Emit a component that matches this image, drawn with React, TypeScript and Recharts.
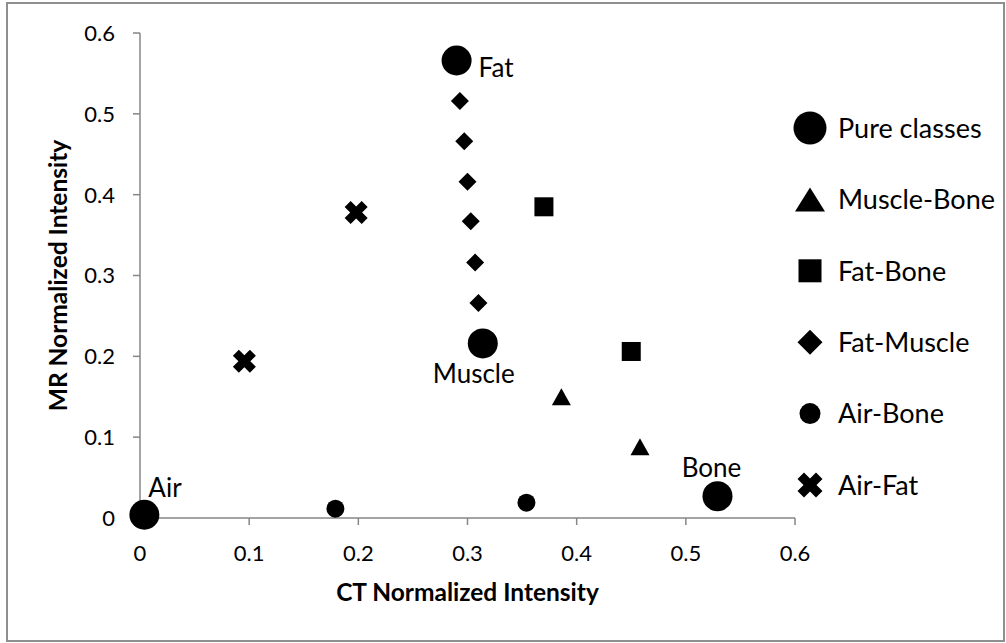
import React from 'react';
import { ScatterChart, Scatter, XAxis, YAxis, Legend } from 'recharts';

// ---- data ----
const pureLabels = ['Air', 'Fat', 'Muscle', 'Bone'];
const pureX = [0.004, 0.29, 0.314, 0.529];
const pureY = [0.004, 0.566, 0.216, 0.027];

const muscleBoneX = [0.386, 0.458];
const muscleBoneY = [0.15, 0.088];

const fatBoneX = [0.37, 0.45];
const fatBoneY = [0.385, 0.206];

const fatMuscleX = [0.293, 0.297, 0.3, 0.303, 0.307, 0.31];
const fatMuscleY = [0.516, 0.466, 0.416, 0.367, 0.316, 0.266];

const airBoneX = [0.179, 0.354];
const airBoneY = [0.0115, 0.019];

const airFatX = [0.0956, 0.198];
const airFatY = [0.194, 0.378];

const seriesNames = ['Pure classes', 'Muscle-Bone', 'Fat-Bone', 'Fat-Muscle', 'Air-Bone', 'Air-Fat'];
const axisTicks = [0, 0.1, 0.2, 0.3, 0.4, 0.5, 0.6];
const xTitle = 'CT Normalized Intensity';
const yTitle = 'MR Normalized Intensity';

// ---- styles ----
const FONT = 'Lato, "Open Sans", sans-serif';
const AXIS_GRAY = '#868686';
const INK = '#000';
const TICK_FS = 22;

const zip = (xs: number[], ys: number[], labels?: string[]) =>
  xs.map((x, i) => ({ x, y: ys[i], label: labels ? labels[i] : '' }));

// marker drawers
const drawCircle = (cx: number, cy: number, d: number) => <circle cx={cx} cy={cy} r={d / 2} fill={INK} />;
const drawTriangle = (cx: number, cy: number, w: number, h: number) => (
  <polygon points={`${cx},${cy - h / 2} ${cx + w / 2},${cy + h / 2} ${cx - w / 2},${cy + h / 2}`} fill={INK} />
);
const drawSquare = (cx: number, cy: number, s: number) => (
  <rect x={cx - s / 2} y={cy - s / 2} width={s} height={s} fill={INK} />
);
const drawDiamond = (cx: number, cy: number, s: number) => (
  <polygon points={`${cx},${cy - s / 2} ${cx + s / 2},${cy} ${cx},${cy + s / 2} ${cx - s / 2},${cy}`} fill={INK} />
);
const drawX = (cx: number, cy: number, w: number) => {
  const t = w / Math.SQRT2; // a + h
  const h = t * 0.74;
  const a = t - h;
  const base = [
    [-a, -h], [a, -h], [a, -a], [h, -a], [h, a], [a, a], [a, h], [-a, h], [-a, a], [-h, a], [-h, -a], [-a, -a],
  ];
  const c = Math.SQRT1_2;
  const pts = base.map(([x, y]) => `${cx + (x - y) * c},${cy + (x + y) * c}`).join(' ');
  return <polygon points={pts} fill={INK} strokeLinejoin="round" />;
};

const labelPlacement: Record<string, { dx: number; dy: number; anchor: 'start' | 'middle' | 'end' }> = {
  Air: { dx: 4, dy: -18, anchor: 'start' },
  Fat: { dx: 22, dy: 17, anchor: 'start' },
  Muscle: { dx: -9, dy: 40, anchor: 'middle' },
  Bone: { dx: -6, dy: -19, anchor: 'middle' },
};

const PureShape = (p: any) => {
  const { cx, cy, payload } = p;
  const lab = payload?.label ?? '';
  const pl = labelPlacement[lab] || { dx: 0, dy: -20, anchor: 'middle' };
  return (
    <g>
      {drawCircle(cx, cy, 30)}
      <text x={cx + pl.dx} y={cy + pl.dy} textAnchor={pl.anchor} fontFamily={FONT} fontSize={26} fill={INK}>
        {lab}
      </text>
    </g>
  );
};
const TriShape = (p: any) => drawTriangle(p.cx, p.cy, 19, 17);
const SqShape = (p: any) => drawSquare(p.cx, p.cy, 19);
const DiaShape = (p: any) => drawDiamond(p.cx, p.cy, 18);
const SmallCircleShape = (p: any) => drawCircle(p.cx, p.cy, 18);
const XShape = (p: any) => drawX(p.cx, p.cy, 23);

const legendMarkers = [
  (x: number, y: number) => drawCircle(x, y, 33),
  (x: number, y: number) => drawTriangle(x, y, 30, 24),
  (x: number, y: number) => drawSquare(x, y, 23),
  (x: number, y: number) => drawDiamond(x, y, 25),
  (x: number, y: number) => drawCircle(x, y, 21),
  (x: number, y: number) => drawX(x, y, 25),
];

const LegendContent = () => (
  <svg width={210} height={430} style={{ display: 'block' }}>
    {seriesNames.map((n, i) => {
      const y = 28 + i * 71.4;
      return (
        <g key={n}>
          {legendMarkers[i](20, y)}
          <text x={48} y={y} dy="0.36em" fontFamily={FONT} fontSize={27} fill={INK}>
            {n}
          </text>
        </g>
      );
    })}
  </svg>
);

const XTitle = (props: any) => {
  const vb = props.viewBox || { x: 140, y: 518, width: 655, height: 60 };
  return (
    <text x={vb.x + vb.width / 2} y={vb.y + 83} textAnchor="middle" fontFamily={FONT} fontWeight="bold" fontSize={24.5} fill={INK}>
      {xTitle}
    </text>
  );
};
const YTitle = (props: any) => {
  const vb = props.viewBox || { x: 80, y: 33, width: 60, height: 485 };
  const cx = 67;
  const cy = vb.y + vb.height / 2;
  return (
    <text transform={`translate(${cx},${cy}) rotate(-90)`} textAnchor="middle" fontFamily={FONT} fontWeight="bold" fontSize={24.5} fill={INK}>
      {yTitle}
    </text>
  );
};

const XTick = (p: any) => (
  <text x={p.x} y={p.y} dy="0.75em" textAnchor="middle" fontFamily={FONT} fontSize={TICK_FS} fill={INK}>
    {String(p.payload.value)}
  </text>
);
const YTick = (p: any) => (
  <text x={p.x} y={p.y} dy="0.36em" textAnchor="end" fontFamily={FONT} fontSize={TICK_FS} fill={INK}>
    {String(p.payload.value)}
  </text>
);

export default function App() {
  return (
    <div style={{ position: 'absolute', left: 0, top: 0, width: 1006, height: 643, background: '#fff' }}>
      <div
        style={{
          position: 'absolute',
          left: 6,
          top: 2,
          width: 999,
          height: 640,
          border: '2px solid #8f8f8f',
          boxSizing: 'border-box',
        }}
      />
      <ScatterChart width={1006} height={643} margin={{ top: 33, right: 211, bottom: 65, left: 80 }}>
        <XAxis
          type="number"
          dataKey="x"
          domain={[0, 0.6]}
          ticks={axisTicks}
          height={60}
          tick={XTick}
          tickSize={7}
          tickMargin={19}
          axisLine={{ stroke: AXIS_GRAY, strokeWidth: 1.5 }}
          tickLine={{ stroke: AXIS_GRAY, strokeWidth: 1.5 }}
          label={{ content: XTitle }}
        />
        <YAxis
          type="number"
          dataKey="y"
          domain={[0, 0.6]}
          ticks={axisTicks}
          width={60}
          tick={YTick}
          tickSize={7}
          tickMargin={18}
          axisLine={{ stroke: AXIS_GRAY, strokeWidth: 1.5 }}
          tickLine={{ stroke: AXIS_GRAY, strokeWidth: 1.5 }}
          label={{ content: YTitle }}
        />
        <Legend
          layout="vertical"
          align="center"
          verticalAlign="middle"
          content={LegendContent}
          wrapperStyle={{ left: 790, top: 100, width: 210, height: 430 }}
        />
        <Scatter name={seriesNames[1]} data={zip(muscleBoneX, muscleBoneY)} shape={TriShape} isAnimationActive={false} />
        <Scatter name={seriesNames[2]} data={zip(fatBoneX, fatBoneY)} shape={SqShape} isAnimationActive={false} />
        <Scatter name={seriesNames[3]} data={zip(fatMuscleX, fatMuscleY)} shape={DiaShape} isAnimationActive={false} />
        <Scatter name={seriesNames[4]} data={zip(airBoneX, airBoneY)} shape={SmallCircleShape} isAnimationActive={false} />
        <Scatter name={seriesNames[5]} data={zip(airFatX, airFatY)} shape={XShape} isAnimationActive={false} />
        <Scatter name={seriesNames[0]} data={zip(pureX, pureY, pureLabels)} shape={PureShape} isAnimationActive={false} />
      </ScatterChart>
    </div>
  );
}
